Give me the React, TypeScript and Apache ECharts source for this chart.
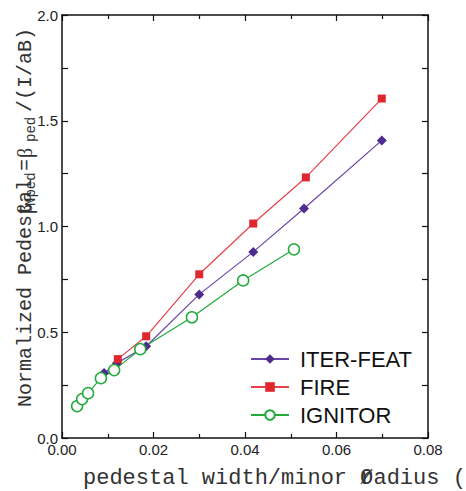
import React, { useEffect, useRef } from "react";
import * as echarts from "echarts";

const iterX = [0.0092, 0.012, 0.0184, 0.03, 0.0418, 0.0529, 0.0699];
const iterY = [0.307, 0.354, 0.434, 0.679, 0.88, 1.085, 1.407];
const fireX = [0.0122, 0.0184, 0.03, 0.0418, 0.0533, 0.0699];
const fireY = [0.373, 0.481, 0.774, 1.014, 1.232, 1.605];
const ignX = [0.0033, 0.0044, 0.0057, 0.0085, 0.0114, 0.0171, 0.0284, 0.0396, 0.0507];
const ignY = [0.151, 0.184, 0.212, 0.283, 0.321, 0.42, 0.571, 0.745, 0.892];

const seriesNames = ["ITER-FEAT", "FIRE", "IGNITOR"];
const xTitle = "pedestal width/minor radius (";
const yTitleMain = "Normalized Pedestal";

const zip = (xs: number[], ys: number[]) => xs.map((x, i) => [x, ys[i]]);

const MONO = "Liberation Mono";
const SANS = "Liberation Sans";
const TITLE_COLOR = "#333";

export default function App() {
  const ref = useRef<HTMLDivElement>(null);
  useEffect(() => {
    if (!ref.current) return;
    const chart = echarts.init(ref.current, undefined, { renderer: "svg" });
    const axisLine = { show: true, onZero: false, lineStyle: { color: "#111", width: 1.5 } };
    const xCommon = {
      type: "value" as const,
      min: 0,
      max: 0.08,
      interval: 0.02,
      axisLine,
      axisTick: { show: true, inside: true, length: 6, lineStyle: { color: "#111", width: 1.2 } },
      minorTick: { show: true, splitNumber: 2, length: 4, lineStyle: { color: "#111", width: 1.2 } },
      splitLine: { show: false },
    };
    const yCommon = {
      type: "value" as const,
      min: 0,
      max: 2,
      interval: 0.5,
      axisLine,
      axisTick: { show: true, inside: true, length: 6, lineStyle: { color: "#111", width: 1.2 } },
      minorTick: { show: true, splitNumber: 2, length: 6, lineStyle: { color: "#111", width: 1.2 } },
      splitLine: { show: false },
    };
    const rot = Math.PI / 2;
    const monoText = (text: string, x: number, y: number, size: number, rotation = 0, family = MONO) => ({
      type: "text",
      x,
      y,
      rotation,
      style: {
        text,
        font: `${size}px "${family}"`,
        fill: TITLE_COLOR,
        align: "left",
        verticalAlign: "middle",
      },
    });
    chart.setOption({
      animation: false,
      backgroundColor: "#fff",
      grid: { left: 62, right: 38, top: 15, bottom: 53, containLabel: false },
      xAxis: [
        {
          ...xCommon,
          position: "bottom",
          axisLabel: {
            show: true,
            margin: 4,
            fontSize: 15,
            fontFamily: SANS,
            color: "#222",
            formatter: (v: number) => v.toFixed(2),
          },
        },
        { ...xCommon, position: "top", axisLabel: { show: false } },
      ],
      yAxis: [
        {
          ...yCommon,
          position: "left",
          axisLabel: {
            show: true,
            margin: 4,
            fontSize: 15,
            fontFamily: SANS,
            color: "#222",
            formatter: (v: number) => v.toFixed(1),
          },
        },
        { ...yCommon, position: "right", axisLabel: { show: false } },
      ],
      legend: {
        orient: "vertical",
        left: 250,
        top: 348,
        padding: 0,
        itemWidth: 38,
        itemHeight: 12,
        itemGap: 6,
        data: seriesNames,
        textStyle: { fontSize: 22, fontFamily: SANS, color: "#111", padding: [0, 0, 0, 6] },
      },
      series: [
        {
          name: seriesNames[0],
          type: "line",
          data: zip(iterX, iterY),
          symbol: "diamond",
          symbolSize: 10,
          lineStyle: { color: "#6a45a8", width: 1.2 },
          itemStyle: { color: "#4e2c8e" },
        },
        {
          name: seriesNames[1],
          type: "line",
          data: zip(fireX, fireY),
          symbol: "rect",
          symbolSize: 8,
          lineStyle: { color: "#e8404a", width: 1.2 },
          itemStyle: { color: "#e0262e" },
        },
        {
          name: seriesNames[2],
          type: "line",
          data: zip(ignX, ignY),
          symbol: "circle",
          symbolSize: 11,
          lineStyle: { color: "#22aa3c", width: 1.2 },
          itemStyle: { color: "#fff", borderColor: "#22aa3c", borderWidth: 1.5 },
        },
      ],
      graphic: [
        monoText(xTitle, 83, 478, 22),
        monoText("Ø", 360, 478, 22),
        monoText(yTitleMain, 25, 407, 20, rot),
        monoText("β", 25, 214, 20, rot, "Liberation Serif"),
        monoText("Nped", 31, 206, 14, rot),
        monoText("=", 25, 171, 20, rot),
        monoText("β", 25, 158, 20, rot, "Liberation Serif"),
        monoText("ped", 31, 142, 14, rot),
        monoText("/(I/aB)", 25, 112, 20, rot),
      ],
    });
    return () => chart.dispose();
  }, []);
  return (
    <div
      ref={ref}
      style={{ position: "fixed", left: 0, top: 0, width: 466, height: 491, background: "#fff" }}
    />
  );
}
